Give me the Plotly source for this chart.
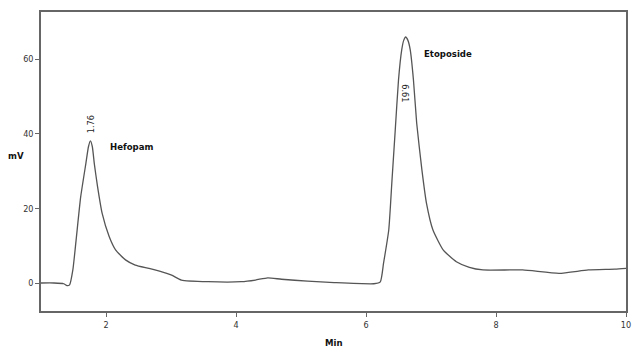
import plotly.graph_objects as go

time_min = [1.0, 1.2, 1.35, 1.40, 1.44, 1.49, 1.54, 1.61, 1.69, 1.73, 1.76, 1.79, 1.82, 1.87, 1.94,
            2.05, 2.15, 2.30, 2.45, 2.66, 2.86, 3.01, 3.16, 3.57, 4.08, 4.30, 4.49, 4.70, 5.10,
            5.51, 6.12, 6.22, 6.27, 6.35, 6.40, 6.45, 6.50, 6.55, 6.58, 6.61, 6.645, 6.68, 6.73,
            6.78, 6.86, 6.93, 7.03, 7.19, 7.39, 7.59, 7.80, 8.41, 8.97, 9.42, 9.83, 10.0]
signal_mv = [0, 0, -0.2, -0.7, -0.5, 3.5, 11.5, 23, 32, 36.5, 38.1, 36.5, 32, 25.8, 18.7,
             12.4, 8.8, 6.2, 4.8, 3.9, 3.0, 2.1, 0.8, 0.35, 0.35, 0.8, 1.4, 1.0, 0.5,
             0.1, -0.2, 0.3, 5.3, 14.2, 27.6, 41, 54.4, 62.5, 65.0, 65.9, 65.0, 62.5, 54.4,
             42.8, 30.3, 21.4, 14.2, 8.8, 5.7, 4.2, 3.5, 3.5, 2.6, 3.5, 3.7, 3.9]

peak_names = ["Hefopam", "Etoposide"]
peak_times = [1.76, 6.61]
peak_heights = [38.1, 65.9]
x_ticks = [2, 4, 6, 8, 10]
y_ticks = [0, 20, 40, 60]

fig = go.Figure()
fig.add_trace(go.Scatter(x=time_min, y=signal_mv, mode="lines",
                         line=dict(color="#555555", width=1.3, shape="spline", smoothing=0.5),
                         hoverinfo="skip", showlegend=False))

bold = dict(family="DejaVu Sans Condensed", size=9.5, color="#111111", weight="bold")

# retention time labels
fig.add_annotation(x=peak_times[0], y=peak_heights[0], text=f"{peak_times[0]:.2f}",
                   textangle=-90, showarrow=False, yshift=17, xshift=0,
                   font=dict(family="DejaVu Sans Condensed", size=9, color="#222222"))
fig.add_annotation(x=peak_times[1], y=peak_heights[1] - 15, text=f"{peak_times[1]:.2f}",
                   textangle=90, showarrow=False, xshift=-1,
                   font=dict(family="DejaVu Sans Condensed", size=9, color="#222222"))
# compound names
fig.add_annotation(x=peak_times[0], y=peak_heights[0], text=peak_names[0], showarrow=False,
                   xanchor="left", xshift=18, yshift=-6, font=bold)
fig.add_annotation(x=peak_times[1], y=peak_heights[1], text=peak_names[1], showarrow=False,
                   xanchor="left", xshift=16, yshift=-16, font=bold)

# axis titles
fig.add_annotation(xref="paper", yref="paper", x=0.5, y=-0.08, text="Min", showarrow=False,
                   yanchor="top", font=bold)
fig.add_annotation(xref="paper", yref="paper", x=-0.042, y=0.52, text="mV", showarrow=False,
                   xanchor="center", font=bold)

axis_common = dict(showgrid=False, zeroline=False, showline=True, linecolor="#666666",
                   linewidth=1.5, mirror=True, ticks="outside", ticklen=4, tickcolor="#666666",
                   tickfont=dict(family="DejaVu Sans Condensed", size=9, color="#333333"))

fig.update_layout(
    width=636, height=349,
    margin=dict(l=41, r=5, t=12, b=38),
    paper_bgcolor="white", plot_bgcolor="white",
    xaxis=dict(range=[1, 10], tickvals=x_ticks, **axis_common),
    yaxis=dict(range=[-7.5, 72.6], tickvals=y_ticks, **axis_common),
)

fig.write_html("out.html", config={"displayModeBar": False},
               post_script="document.body.style.margin='0';document.body.style.overflow='hidden';")
